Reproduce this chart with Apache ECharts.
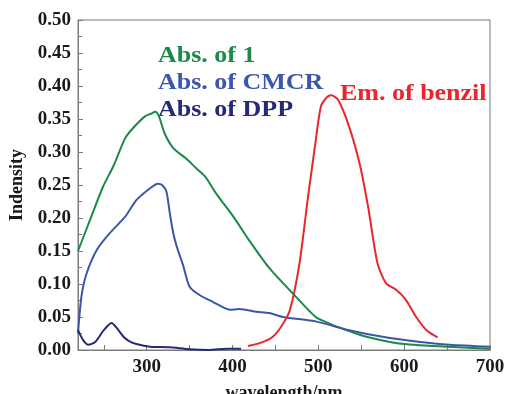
<!DOCTYPE html>
<html>
<head>
<meta charset="utf-8">
<script src="https://cdn.jsdelivr.net/npm/echarts@6/dist/echarts.min.js"></script>
<style>
  html, body { margin: 0; padding: 0; background: #fff; }
  #chart { width: 507px; height: 394px; }
</style>
</head>
<body>
<div id="chart"></div>
<script>
// Abs. of 1
var abs1Wl  = [220, 234, 249, 261, 275, 284, 298, 305, 310, 314, 321, 331, 346, 358, 368, 381, 401, 420, 443, 470, 497, 513, 535, 556, 594, 652, 700];
var abs1Val = [0.150, 0.197, 0.247, 0.278, 0.321, 0.336, 0.354, 0.358, 0.361, 0.355, 0.328, 0.306, 0.290, 0.275, 0.263, 0.237, 0.202, 0.165, 0.124, 0.086, 0.050, 0.040, 0.029, 0.020, 0.010, 0.005, 0.002];

// Abs. of CMCR
var cmcrWl  = [220, 224, 230, 242, 257, 275, 288, 304, 313, 318, 323, 327, 331, 335, 343, 350, 362, 377, 397, 408, 428, 443, 459, 498, 536, 575, 614, 653, 700];
var cmcrVal = [0.025, 0.081, 0.116, 0.152, 0.177, 0.202, 0.227, 0.245, 0.252, 0.250, 0.240, 0.207, 0.177, 0.157, 0.126, 0.096, 0.083, 0.073, 0.061, 0.062, 0.058, 0.056, 0.050, 0.043, 0.030, 0.020, 0.013, 0.008, 0.005];

// Abs. of DPP
var dppWl  = [220, 226, 232, 240, 250, 259, 266, 273, 280, 288, 304, 327, 350, 373, 393, 410];
var dppVal = [0.030, 0.015, 0.008, 0.012, 0.030, 0.041, 0.032, 0.020, 0.013, 0.009, 0.005, 0.004, 0.001, 0.000, 0.002, 0.002];

// Em. of benzil
var benzilWl  = [418, 435, 447, 458, 467, 478, 488, 496, 503, 510, 515, 523, 536, 548, 558, 569, 579, 591, 602, 614, 626, 639];
var benzilVal = [0.006, 0.012, 0.020, 0.038, 0.061, 0.131, 0.232, 0.308, 0.369, 0.383, 0.386, 0.379, 0.338, 0.283, 0.217, 0.131, 0.101, 0.091, 0.076, 0.050, 0.030, 0.019];

var xLabelValues = [300, 400, 500, 600, 700];
var xTickValues = [250, 300, 350, 400, 450, 500, 550, 600, 650, 700];

var seriesNames = ['Abs. of 1', 'Abs. of CMCR', 'Abs. of DPP', 'Em. of benzil'];
var seriesColors = ['#1b8a48', '#3b58a8', '#252a78', '#e8262b'];

function zip(xs, ys) {
  return xs.map(function (x, i) { return [x, ys[i]]; });
}

var serif = '"Liberation Serif", "Times New Roman", serif';

function tag(text, color, x, y) {
  return {
    type: 'text', x: x, y: y, scaleX: 1.13,
    style: {
      text: text, fill: color,
      fontFamily: serif, fontWeight: 'bold', fontSize: 23,
      verticalAlign: 'alphabetic'
    }
  };
}

var chart = echarts.init(document.getElementById('chart'), null, { renderer: 'canvas' });

var options = {
  animation: false,
  grid: {
    left: 78,
    right: 17,
    top: 20,
    bottom: 44,
    outerBoundsMode: 'none',
    containLabel: false,
    show: true,
    borderColor: '#7a7a7a',
    borderWidth: 1
  },
  xAxis: {
    type: 'value',
    min: 220,
    max: 700,
    name: 'wavelength/nm',
    nameLocation: 'middle',
    nameGap: 34,
    nameTextStyle: { fontFamily: serif, fontWeight: 'bold', fontSize: 18, color: '#1a1a1a' },
    axisLine: { onZero: false, lineStyle: { color: '#7a7a7a', width: 1 } },
    axisTick: { inside: true, length: 5, customValues: xTickValues, lineStyle: { color: '#7a7a7a' } },
    axisLabel: {
      customValues: xLabelValues,
      margin: 8,
      fontFamily: serif, fontWeight: 'bold', fontSize: 19, color: '#1a1a1a'
    },
    splitLine: { show: false }
  },
  yAxis: {
    type: 'value',
    min: 0,
    max: 0.5,
    interval: 0.05,
    name: 'Indensity',
    nameLocation: 'middle',
    nameRotate: 90,
    nameGap: 52,
    nameTextStyle: { fontFamily: serif, fontWeight: 'bold', fontSize: 18, color: '#1a1a1a' },
    axisLine: { show: true, lineStyle: { color: '#7a7a7a', width: 1 } },
    axisTick: { inside: true, length: 5, lineStyle: { color: '#7a7a7a' } },
    minorTick: { show: true, splitNumber: 2, length: 4, lineStyle: { color: '#7a7a7a' } },
    axisLabel: {
      margin: 7,
      formatter: function (v) { return v.toFixed(2); },
      fontFamily: serif, fontWeight: 'bold', fontSize: 19, color: '#1a1a1a'
    },
    splitLine: { show: false }
  },
  series: [abs1Wl, cmcrWl, dppWl, benzilWl].map(function (wl, i) {
    var vals = [abs1Val, cmcrVal, dppVal, benzilVal][i];
    return {
      name: seriesNames[i],
      type: 'line',
      data: zip(wl, vals),
      showSymbol: false,
      smooth: 0.25,
      lineStyle: { width: 2, color: seriesColors[i] },
      itemStyle: { color: seriesColors[i] }
    };
  }),
  graphic: [
    tag(seriesNames[0], seriesColors[0], 158, 45),
    tag(seriesNames[1], seriesColors[1], 158, 72),
    tag(seriesNames[2], seriesColors[2], 158, 99),
    tag(seriesNames[3], seriesColors[3], 340, 83)
  ]
};

options && chart.setOption(options);
</script>
</body>
</html>
